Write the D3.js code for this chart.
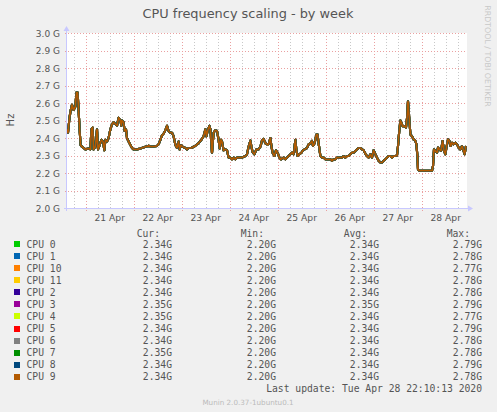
<!DOCTYPE html>
<html>
<head>
<meta charset="utf-8">
<script src="https://cdn.jsdelivr.net/npm/d3@7"></script>
<style>
  body { margin: 0; background: #f0f0f0; }
  svg { display: block; }
</style>
</head>
<body>
<svg id="chart" width="497" height="412"></svg>
<script>
// ##### Data

// Start of the graph window (left edge of the canvas)
var startTime = new Date(2020, 3, 20, 14, 40);
var endTime = new Date(2020, 3, 28, 22, 40);

// Sample times, in hours after startTime
var sampleHours = [
  0, 0.5, 1.2, 1.7, 2.5, 3.3, 4.2, 4.7, 5.3, 5.8, 6.3, 6.8, 7.5, 9.2, 10.8, 11.7,
  12.2, 12.8, 13.3, 14.2, 15, 15.5, 16.2, 17.2, 18, 18.7, 19.2, 20, 20.8, 21.7,
  22.5, 23.3, 24.2, 25, 25.8, 26.7, 27.2, 27.5, 28.3, 28.8, 29.5, 30, 30.8, 31.7,
  32.5, 33.3, 35, 36.7, 39.2, 40.8, 42.5, 45, 45.8, 46.7, 47.5, 48.3, 49.2, 50,
  50.8, 51.7, 52.5, 53.3, 54.2, 55, 55.8, 56.3, 57, 57.8, 59.2, 60, 60.8, 62.2,
  63.3, 64.2, 65, 65.8, 67.2, 68.3, 69.2, 69.7, 70.3, 71.2, 71.7, 72.5, 73.3,
  74.2, 75, 75.8, 76.3, 77, 77.5, 78.3, 79.2, 80, 80.8, 81.7, 82.5, 83.3, 84.2,
  85, 85.8, 87.5, 89.2, 90, 90.8, 91.7, 92.2, 92.8, 93.7, 94.7, 95.8, 96.7, 97.5,
  98.3, 99.2, 100, 100.8, 101.7, 102.2, 102.8, 103.7, 104.5, 105.3, 106.2, 107,
  108.3, 109.2, 110, 110.8, 111.7, 112.5, 113.3, 114.2, 114.7, 115.3, 116.2,
  117.2, 118, 118.8, 120, 120.8, 121.7, 122.5, 123, 123.8, 124.7, 125.3, 125.8,
  126.7, 127.5, 128.3, 129.2, 130, 130.8, 131.7, 132.5, 133.3, 134.2, 135, 135.8,
  137.5, 138.3, 139.2, 140, 140.8, 141.7, 142.5, 143.3, 144.2, 145, 145.8, 146.7,
  147.5, 148.3, 149.2, 150, 150.8, 151.7, 152.5, 153.3, 154.2, 155, 155.8, 156.7,
  157.5, 158.3, 159.2, 160, 160.8, 161.7, 162.5, 163.3, 164.2, 165, 165.5, 166.2,
  166.7, 167.2, 167.8, 168.7, 169.5, 170, 170.5, 171.2, 171.7, 172.5, 173.3,
  174.2, 174.7, 175.2, 175.5, 176.2, 177.5, 179.2, 180.8, 182.5, 183, 183.5,
  184.2, 185, 185.5, 186.2, 187, 187.8, 188.5, 189.2, 189.7, 190.5, 191.2, 191.8,
  192.5, 193.3, 194.2, 195, 195.8, 196.7, 197.5, 198.3, 198.8, 199.5
];

// Frequency (GHz) at each sample, all CPUs follow this curve
var freqGHz = [
  2.45, 2.43, 2.51, 2.55, 2.59, 2.56, 2.58, 2.66, 2.66, 2.56, 2.45, 2.36, 2.35, 2.335, 2.34, 2.335,
  2.45, 2.46, 2.335, 2.35, 2.45, 2.335, 2.355, 2.39, 2.38, 2.33, 2.39, 2.38, 2.40, 2.45,
  2.478, 2.49, 2.48, 2.47, 2.516, 2.50, 2.47, 2.50, 2.49, 2.44, 2.45, 2.40, 2.38, 2.36,
  2.343, 2.335, 2.335, 2.34, 2.35, 2.355, 2.35, 2.355, 2.364, 2.39, 2.415, 2.425, 2.445, 2.47,
  2.44, 2.43, 2.43, 2.41, 2.36, 2.343, 2.38, 2.335, 2.36, 2.35, 2.343, 2.335, 2.343, 2.343,
  2.35, 2.355, 2.364, 2.37, 2.39, 2.41, 2.45, 2.41, 2.44, 2.47, 2.45, 2.315, 2.43,
  2.445, 2.44, 2.39, 2.34, 2.39, 2.38, 2.33, 2.335, 2.33, 2.288, 2.288, 2.278, 2.288, 2.278,
  2.288, 2.288, 2.288, 2.297, 2.307, 2.35, 2.385, 2.35, 2.32, 2.307, 2.335, 2.335, 2.35, 2.385,
  2.395, 2.37, 2.364, 2.364, 2.40, 2.354, 2.316, 2.297, 2.33, 2.316, 2.288, 2.278,
  2.288, 2.278, 2.288, 2.297, 2.307, 2.316, 2.307, 2.39, 2.33, 2.297, 2.307,
  2.316, 2.33, 2.335, 2.343, 2.364, 2.37, 2.383, 2.354, 2.37, 2.42, 2.42, 2.37,
  2.297, 2.288, 2.288, 2.278, 2.278, 2.278, 2.278, 2.27, 2.278, 2.278, 2.288, 2.288,
  2.288, 2.297, 2.288, 2.297, 2.297, 2.307, 2.316, 2.316, 2.326, 2.335, 2.343, 2.343,
  2.335, 2.33, 2.31, 2.297, 2.288, 2.307, 2.288, 2.33, 2.307, 2.288, 2.27, 2.26,
  2.26, 2.27, 2.278, 2.288, 2.297, 2.297, 2.288, 2.297, 2.297, 2.30, 2.354, 2.45,
  2.50, 2.487, 2.468, 2.468, 2.46, 2.512, 2.61, 2.50, 2.42, 2.41, 2.392,
  2.383, 2.364, 2.297, 2.22, 2.213, 2.213, 2.213, 2.213, 2.213, 2.24, 2.335,
  2.326, 2.316, 2.345, 2.335, 2.326, 2.383, 2.326, 2.307, 2.345, 2.392, 2.383, 2.354,
  2.373, 2.364, 2.373, 2.364, 2.345, 2.335, 2.354, 2.326, 2.307, 2.354
];

// Legend: series names, colours and the GPRINT values
var cpuNames = ['CPU 0', 'CPU 1', 'CPU 10', 'CPU 11', 'CPU 2', 'CPU 3',
                'CPU 4', 'CPU 5', 'CPU 6', 'CPU 7', 'CPU 8', 'CPU 9'];
var cpuColours = ['#00cc00', '#0066b3', '#ff8000', '#ffcc00', '#330099', '#990099',
                  '#ccff00', '#ff0000', '#808080', '#008f00', '#00487d', '#b35a00'];
var curValues = ['2.34G', '2.34G', '2.34G', '2.34G', '2.34G', '2.35G',
                 '2.35G', '2.34G', '2.34G', '2.35G', '2.34G', '2.34G'];
var minValues = ['2.20G', '2.20G', '2.20G', '2.20G', '2.20G', '2.20G',
                 '2.20G', '2.20G', '2.20G', '2.20G', '2.20G', '2.20G'];
var avgValues = ['2.34G', '2.34G', '2.34G', '2.34G', '2.34G', '2.35G',
                 '2.34G', '2.34G', '2.34G', '2.34G', '2.34G', '2.34G'];
var maxValues = ['2.79G', '2.78G', '2.77G', '2.78G', '2.78G', '2.79G',
                 '2.77G', '2.79G', '2.78G', '2.78G', '2.79G', '2.78G'];

// Y ticks (Hz) and the day labels
var yTicks = [2.0e9, 2.1e9, 2.2e9, 2.3e9, 2.4e9, 2.5e9, 2.6e9, 2.7e9, 2.8e9, 2.9e9, 3.0e9];
var dayLabels = ['21 Apr', '22 Apr', '23 Apr', '24 Apr', '25 Apr', '26 Apr', '27 Apr', '28 Apr'];


// ##### Setup
var svg = d3.select('#chart');
var textColour = '#555';
var sansFont = '"DejaVu Sans", sans-serif';
var monoFont = '"DejaVu Sans Mono", monospace';

var plotLeft = 67, plotRight = 467, plotTop = 33, plotBottom = 208;

var x = d3.scaleTime().domain([startTime, endTime]).range([plotLeft, plotRight]);
var y = d3.scaleLinear().domain([2.0e9, 3.0e9]).range([plotBottom, plotTop]);

// Canvas
svg.append('rect')
  .attr('x', plotLeft).attr('y', plotTop)
  .attr('width', plotRight - plotLeft).attr('height', plotBottom - plotTop)
  .attr('fill', '#fff');

// Title
svg.append('text')
  .attr('x', 248).attr('y', 18)
  .attr('text-anchor', 'middle')
  .style('font-family', sansFont).style('font-size', '12.9px')
  .attr('fill', textColour)
  .text('CPU frequency scaling - by week');

// Vertical label on the right
svg.append('text')
  .attr('transform', 'translate(485,56) rotate(90)')
  .attr('text-anchor', 'middle')
  .style('font-family', sansFont).style('font-size', '7.9px')
  .attr('fill', '#c8c8c8')
  .text('RRDTOOL / TOBI OETIKER');

// Y axis title
svg.append('text')
  .attr('transform', 'translate(14,120) rotate(-90)')
  .attr('text-anchor', 'middle')
  .style('font-family', sansFont).style('font-size', '10px')
  .attr('fill', textColour)
  .text('Hz');


// ##### Grid
var grid = svg.append('g').attr('class', 'grid');

// Minor vertical lines every 6 hours
var minorTimes = d3.timeHour.every(6).range(startTime, endTime)
  .filter(function(d) { return d.getHours() !== 0; });
grid.selectAll('line.minor')
  .data(minorTimes)
  .enter()
  .append('line')
  .attr('class', 'minor')
  .attr('x1', function(d) { return Math.round(x(d)) + 0.5; })
  .attr('x2', function(d) { return Math.round(x(d)) + 0.5; })
  .attr('y1', plotTop).attr('y2', plotBottom + 2)
  .attr('stroke', '#c8c8c8')
  .attr('stroke-dasharray', '1,2');

// Major vertical lines at midnight
var dayTimes = d3.timeDay.range(startTime, endTime);
grid.selectAll('line.major')
  .data(dayTimes)
  .enter()
  .append('line')
  .attr('class', 'major')
  .attr('x1', function(d) { return Math.round(x(d)) + 0.5; })
  .attr('x2', function(d) { return Math.round(x(d)) + 0.5; })
  .attr('y1', plotTop).attr('y2', plotBottom + 3)
  .attr('stroke', '#eaa0a0')
  .attr('stroke-dasharray', '1,2');

// Horizontal lines
grid.selectAll('line.hor')
  .data(yTicks)
  .enter()
  .append('line')
  .attr('class', 'hor')
  .attr('x1', plotLeft - 2).attr('x2', plotRight)
  .attr('y1', function(d) { return Math.round(y(d)) + 0.5; })
  .attr('y2', function(d) { return Math.round(y(d)) + 0.5; })
  .attr('stroke', '#eaa0a0')
  .attr('stroke-dasharray', '1,2');

// Y tick labels
svg.append('g')
  .selectAll('text')
  .data(yTicks)
  .enter()
  .append('text')
  .attr('x', 60)
  .attr('y', function(d) { return y(d) + 3.5; })
  .attr('text-anchor', 'end')
  .style('font-family', sansFont).style('font-size', '9px')
  .attr('fill', textColour)
  .text(function(d) { return (d / 1e9).toFixed(1) + ' G'; });

// Day labels, centred at noon
svg.append('g')
  .selectAll('text')
  .data(dayTimes)
  .enter()
  .append('text')
  .attr('x', function(d) { return x(d3.timeHour.offset(d, 12)); })
  .attr('y', 221)
  .attr('text-anchor', 'middle')
  .style('font-family', sansFont).style('font-size', '9.2px')
  .attr('fill', textColour)
  .text(function(d, i) { return dayLabels[i]; });


// ##### Lines for each CPU (drawn in legend order, the last one on top)
var points = sampleHours.map(function(h, i) {
  return { time: d3.timeMinute.offset(startTime, Math.round(h * 60)), value: freqGHz[i] * 1e9 };
});

var lineGen = d3.line()
  .x(function(d) { return x(d.time); })
  .y(function(d) { return y(d.value); });

svg.append('g')
  .attr('class', 'lines')
  .selectAll('path')
  .data(cpuNames)
  .enter()
  .append('path')
  .attr('d', lineGen(points))
  .attr('fill', 'none')
  .attr('stroke', function(d, i) { return cpuColours[i]; })
  .attr('stroke-width', function(d, i) { return i === cpuNames.length - 1 ? 1.7 : 2.1; })
  .attr('stroke-linejoin', 'round');


// ##### Axes with arrows
var axisColour = '#c8c8ff';
svg.append('line')
  .attr('x1', plotLeft - 0.5).attr('x2', plotLeft - 0.5)
  .attr('y1', plotBottom + 3).attr('y2', plotTop - 4)
  .attr('stroke', axisColour);
svg.append('path')
  .attr('d', 'M' + (plotLeft - 3.5) + ',' + (plotTop - 2) + 'L' + (plotLeft - 0.5) + ',' + (plotTop - 7) +
             'L' + (plotLeft + 2.5) + ',' + (plotTop - 2) + 'Z')
  .attr('fill', axisColour);
svg.append('line')
  .attr('x1', plotLeft - 3).attr('x2', plotRight + 3)
  .attr('y1', plotBottom + 0.5).attr('y2', plotBottom + 0.5)
  .attr('stroke', axisColour);
svg.append('path')
  .attr('d', 'M' + (plotRight + 1) + ',' + (plotBottom - 2.5) + 'L' + (plotRight + 6) + ',' + (plotBottom + 0.5) +
             'L' + (plotRight + 1) + ',' + (plotBottom + 3.5) + 'Z')
  .attr('fill', axisColour);


// ##### Legend
var legend = svg.append('g')
  .style('font-family', monoFont).style('font-size', '9.7px')
  .attr('fill', textColour);

var columns = [
  { title: 'Cur:', values: curValues, right: 172 },
  { title: 'Min:', values: minValues, right: 276 },
  { title: 'Avg:', values: avgValues, right: 379 },
  { title: 'Max:', values: maxValues, right: 482 }
];

columns.forEach(function(col) {
  legend.append('text')
    .attr('x', col.right - 12).attr('y', 236.5)
    .attr('text-anchor', 'end')
    .text(col.title);
});

var rowY = function(i) { return 244.3 + i * 12.03; };

legend.selectAll('rect')
  .data(cpuNames)
  .enter()
  .append('rect')
  .attr('x', 14).attr('y', function(d, i) { return Math.round(rowY(i)) - 3; })
  .attr('width', 6).attr('height', 6)
  .attr('fill', function(d, i) { return cpuColours[i]; });

legend.selectAll('text.name')
  .data(cpuNames)
  .enter()
  .append('text')
  .attr('class', 'name')
  .attr('x', 26.5).attr('y', function(d, i) { return rowY(i) + 3.5; })
  .text(function(d) { return d; });

columns.forEach(function(col) {
  legend.selectAll(null)
    .data(col.values)
    .enter()
    .append('text')
    .attr('x', col.right).attr('y', function(d, i) { return rowY(i) + 3.5; })
    .attr('text-anchor', 'end')
    .text(function(d) { return d; });
});

legend.append('text')
  .attr('x', 482).attr('y', 391.8)
  .attr('text-anchor', 'end')
  .text('Last update: Tue Apr 28 22:10:13 2020');

// Footer
svg.append('text')
  .attr('x', 248).attr('y', 404.5)
  .attr('text-anchor', 'middle')
  .style('font-family', sansFont).style('font-size', '7.2px')
  .attr('fill', '#bbb')
  .text('Munin 2.0.37-1ubuntu0.1');
</script>
</body>
</html>
